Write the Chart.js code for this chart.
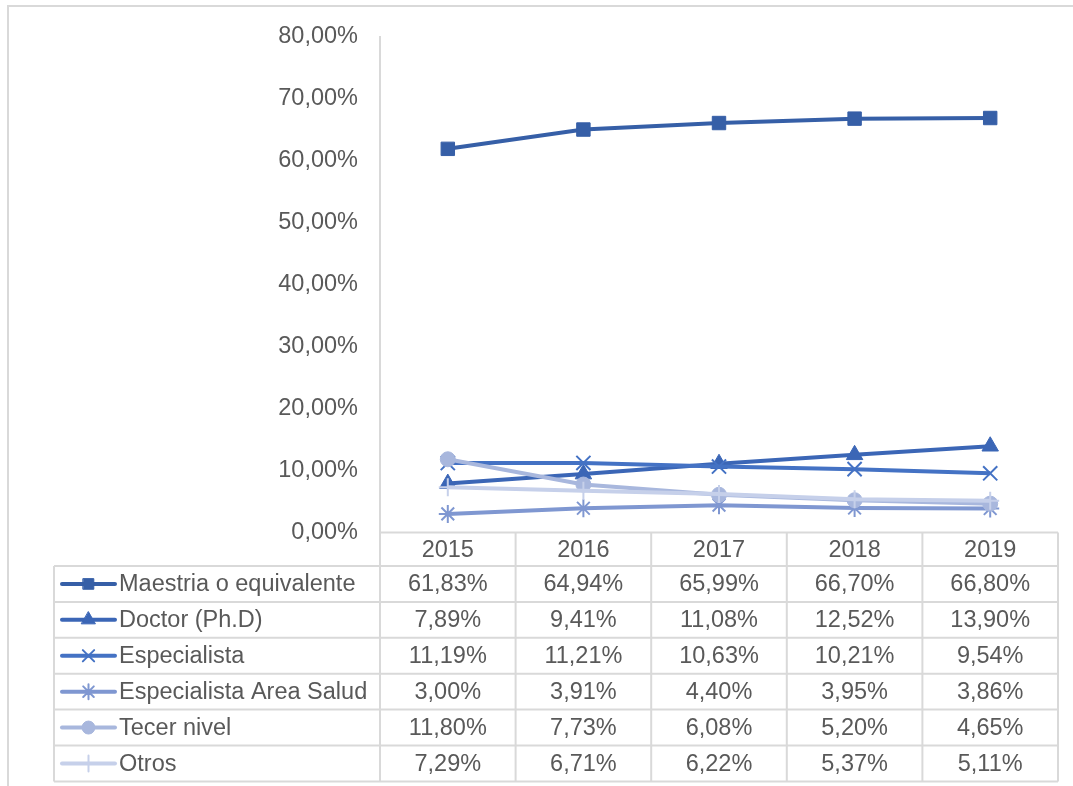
<!DOCTYPE html>
<html><head><meta charset="utf-8">
<script src="https://cdn.jsdelivr.net/npm/chart.js@4/dist/chart.umd.min.js"></script>
<style>
html,body{margin:0;padding:0;background:#fff;overflow:hidden}
#wrap{position:absolute;left:0;top:0;width:1073px;height:786px}
</style>
</head><body><div id="wrap"><canvas id="c" width="1073" height="786"></canvas></div>
<script>
// ---- data ----
const categories = ['2015', '2016', '2017', '2018', '2019'];
const seriesNames = ['Maestria o equivalente', 'Doctor (Ph.D)', 'Especialista', 'Especialista Area Salud', 'Tecer nivel', 'Otros'];
const maestria = [61.83, 64.94, 65.99, 66.70, 66.80];
const doctor = [7.89, 9.41, 11.08, 12.52, 13.90];
const especialista = [11.19, 11.21, 10.63, 10.21, 9.54];
const areaSalud = [3.00, 3.91, 4.40, 3.95, 3.86];
const tercerNivel = [11.80, 7.73, 6.08, 5.20, 4.65];
const otros = [7.29, 6.71, 6.22, 5.37, 5.11];
const yTicks = [0, 10, 20, 30, 40, 50, 60, 70, 80];

// ---- styles ----
const seriesData = [maestria, doctor, especialista, areaSalud, tercerNivel, otros];
const colors = ['#365FA7', '#3B66B6', '#4472C4', '#7F97D1', '#A8B7DD', '#C6D0EA'];
const pStyles = ['rect', 'triangle', 'crossRot', 'star', 'circle', 'cross'];
const pRadius = [9.5, 9.5, 10, 9, 7.5, 9];
const pBorder = [1, 1, 2, 2, 1, 2];
const legRadius = [7.5, 8, 8, 7.5, 6.5, 8];

const FONT = "'Liberation Sans', Arial, sans-serif";
const TXT = '#595959';
const GRID = '#D9D9D9';
const fmt = v => v.toFixed(2).replace('.', ',') + '%';

Chart.defaults.font.family = FONT;
Chart.defaults.color = TXT;

const tablePlugin = {
  id: 'tablePlugin',
  beforeDatasetsDraw(chart) {
    const ctx = chart.ctx;
    const ca = chart.chartArea;
    const xs = chart.scales.x;
    const rowTop = 566, rowH = 35.9, nRows = seriesNames.length;
    const bottom = rowTop + rowH * nRows;
    const colW = (ca.right - ca.left) / categories.length;
    ctx.save();
    ctx.strokeStyle = GRID;
    ctx.lineWidth = 2;
    ctx.beginPath();
    // outer frame
    ctx.moveTo(8, 786); ctx.lineTo(8, 6); ctx.lineTo(1073, 6);
    // axis vertical line
    ctx.moveTo(ca.left, ca.top); ctx.lineTo(ca.left, bottom);
    // x axis / header top
    ctx.moveTo(ca.left, ca.bottom); ctx.lineTo(ca.right, ca.bottom);
    // column lines
    for (let i = 1; i <= categories.length; i++) {
      const x = ca.left + colW * i;
      ctx.moveTo(x, ca.bottom); ctx.lineTo(x, bottom);
    }
    // row lines
    for (let r = 0; r <= nRows; r++) {
      const y = rowTop + rowH * r;
      ctx.moveTo(54, y); ctx.lineTo(ca.right, y);
    }
    ctx.moveTo(54, rowTop); ctx.lineTo(54, bottom);
    ctx.stroke();

    // text
    ctx.fillStyle = TXT;
    ctx.font = '23.5px ' + FONT;
    ctx.textBaseline = 'middle';
    ctx.textAlign = 'center';
    categories.forEach((c, i) => {
      ctx.fillText(c, xs.getPixelForValue(i), (ca.bottom + rowTop) / 2 + 1);
    });
    seriesData.forEach((arr, r) => {
      const y = rowTop + rowH * r + rowH / 2 + 1;
      arr.forEach((v, i) => {
        ctx.fillText(fmt(v), xs.getPixelForValue(i), y);
      });
    });
    ctx.textAlign = 'left';
    seriesNames.forEach((n, r) => {
      const y = rowTop + rowH * r + rowH / 2;
      ctx.fillText(n, 119, y + 1);
      ctx.strokeStyle = colors[r];
      ctx.lineWidth = 4;
      ctx.lineCap = 'round';
      ctx.beginPath(); ctx.moveTo(62, y); ctx.lineTo(115, y); ctx.stroke();
      ctx.fillStyle = colors[r];
      ctx.lineWidth = pBorder[r];
      Chart.helpers.drawPoint(ctx, {pointStyle: pStyles[r], radius: legRadius[r], borderWidth: pBorder[r], rotation: 0}, 88.5, y);
      ctx.fillStyle = TXT;
    });
    ctx.restore();
  }
};

new Chart(document.getElementById('c'), {
  type: 'line',
  data: {
    labels: categories,
    datasets: seriesData.map((d, i) => ({
      label: seriesNames[i],
      data: d,
      borderColor: colors[i],
      backgroundColor: colors[i],
      pointBackgroundColor: colors[i],
      pointBorderColor: colors[i],
      pointStyle: pStyles[i],
      pointRadius: pRadius[i],
      pointBorderWidth: pBorder[i],
      borderWidth: 4,
      tension: 0,
      fill: false,
      order: 6 - i
    }))
  },
  options: {
    responsive: false,
    animation: false,
    devicePixelRatio: 1,
    layout: {padding: {left: 0, top: 36, right: 15, bottom: 253.5}},
    plugins: {legend: {display: false}, tooltip: {enabled: false}},
    scales: {
      x: {type: 'category', offset: true, display: false},
      y: {
        min: 0, max: 80,
        afterBuildTicks: s => { s.ticks = yTicks.map(v => ({value: v})); },
        afterFit: s => { s.width = 380; },
        grid: {display: false, drawTicks: false},
        border: {display: false},
        ticks: {padding: 22, font: {size: 23.5}, color: TXT, callback: v => fmt(v)}
      }
    }
  },
  plugins: [tablePlugin]
});
</script>
</body></html>
